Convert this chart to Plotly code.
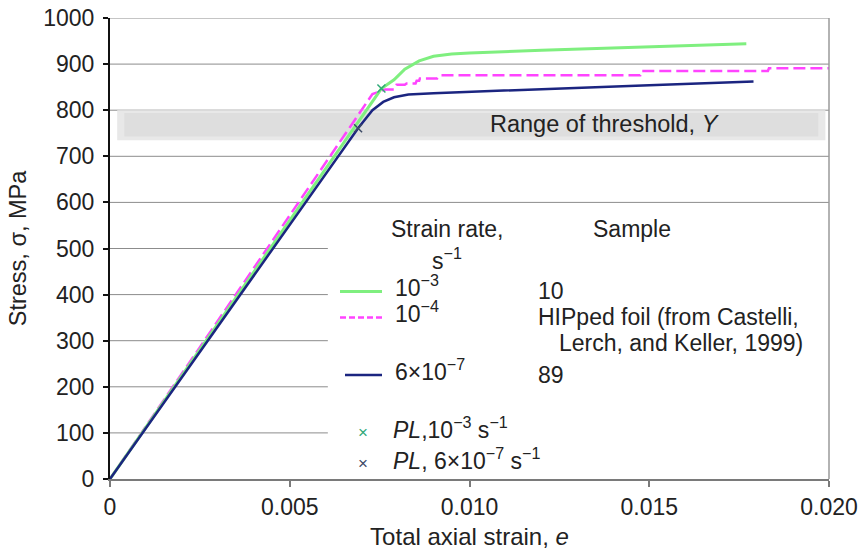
import plotly.graph_objects as go

# Stress-strain curves (strain, stress in MPa)
strain_1e3 = [0, 0.00755, 0.0079, 0.0082, 0.0086, 0.0090, 0.0095, 0.0100, 0.0120, 0.0150, 0.0177]
stress_1e3 = [0, 847, 866, 889, 907, 917, 922, 924, 930, 937, 944]

strain_1e4 = [0, 0.0073, 0.00765, 0.0079, 0.00797, 0.0082, 0.00825, 0.0085, 0.00853,
              0.0086, 0.00862, 0.0091, 0.00918, 0.01475, 0.01478, 0.0183, 0.01833, 0.0200]
stress_1e4 = [0, 835, 845, 845, 855, 855, 858, 858, 864,
              864, 869, 869, 876, 876, 885, 885, 891, 891]

strain_6e7 = [0, 0.0069, 0.0073, 0.0076, 0.0079, 0.0083, 0.0090, 0.0120, 0.0150, 0.0179]
stress_6e7 = [0, 761, 800, 818, 828, 834, 837, 846, 854, 862]

# Proportional limits
pl_1e3 = (0.00755, 847)
pl_6e7 = (0.0069, 761)

# Threshold range Y (MPa)
threshold_lo, threshold_hi = 735, 800

x_tickvals = [0, 0.005, 0.010, 0.015, 0.020]
x_ticktext = ["0", "0.005", "0.010", "0.015", "0.020"]
y_tickvals = list(range(0, 1001, 100))
full_grid = [600, 700, 800, 900, 1000]
short_grid = [100, 200, 300, 400, 500]

FONT = "Liberation Sans, Arial, sans-serif"
TXT = "#222222"
GREEN = "#7FEF7F"
MAGENTA = "#FF44FF"
NAVY = "#1B2580"
GRID = "#8c8c8c"
KEY_SIZE = 23

fig = go.Figure()

fig.add_trace(go.Scatter(x=strain_1e4, y=stress_1e4, mode="lines",
                         line=dict(color=MAGENTA, width=2.5, dash="12px,5px"), showlegend=False))
fig.add_trace(go.Scatter(x=strain_1e3, y=stress_1e3, mode="lines",
                         line=dict(color=GREEN, width=3), showlegend=False))
fig.add_trace(go.Scatter(x=strain_6e7, y=stress_6e7, mode="lines",
                         line=dict(color=NAVY, width=2.5), showlegend=False))
fig.add_trace(go.Scatter(x=[pl_1e3[0]], y=[pl_1e3[1]], mode="markers",
                         marker=dict(symbol="x-thin", size=8, line=dict(color="#2FA878", width=1.5)),
                         showlegend=False))
fig.add_trace(go.Scatter(x=[pl_6e7[0]], y=[pl_6e7[1]], mode="markers",
                         marker=dict(symbol="x-thin", size=8, line=dict(color="#3C4A66", width=1.5)),
                         showlegend=False))

shapes = []
# soft grey threshold band
shapes.append(dict(type="rect", xref="x", yref="y", x0=0.0002, x1=0.0199, y0=threshold_lo, y1=threshold_hi,
                   fillcolor="#e8e8e8", line=dict(width=0), layer="below"))
shapes.append(dict(type="rect", xref="x", yref="y", x0=0.0004, x1=0.0197, y0=threshold_lo + 8, y1=threshold_hi - 6,
                   fillcolor="#dedede", line=dict(width=0), layer="below"))

# gridlines: upper ones span the plot, lower ones stop at the key panel
for g in full_grid:
    shapes.append(dict(type="line", xref="paper", yref="y", x0=0, x1=1, y0=g, y1=g,
                       line=dict(color=GRID, width=1), layer="below"))
for g in short_grid:
    shapes.append(dict(type="line", xref="paper", yref="y", x0=0, x1=0.303, y0=g, y1=g,
                       line=dict(color=GRID, width=1), layer="below"))

# right border of the plot area
shapes.append(dict(type="line", xref="paper", yref="paper", x0=1, x1=1, y0=0, y1=1,
                   line=dict(color="#9a9a9a", width=1.5)))


def px_x(p):
    return (p - 110) / 719


def px_y(p):
    return (479 - p) / 461


# key line samples
for (x0, x1, y, col, dash, w) in [(340, 382, 291.5, GREEN, "solid", 3),
                                  (340, 382, 317.5, MAGENTA, "6px,3px", 2.5),
                                  (345, 382, 375, NAVY, "solid", 2.5)]:
    shapes.append(dict(type="line", xref="paper", yref="paper", x0=px_x(x0), x1=px_x(x1),
                       y0=px_y(y), y1=px_y(y), line=dict(color=col, width=w, dash=dash)))

annotations = []


def note(text, x, y, xanchor="left", size=KEY_SIZE, color=TXT):
    annotations.append(dict(text=text, xref="paper", yref="paper", x=px_x(x), y=px_y(y),
                            xanchor=xanchor, yanchor="middle", showarrow=False,
                            font=dict(family=FONT, size=size, color=color)))


note("Strain rate,", 447, 229, "center")
note("s<sup>−1</sup>", 447, 259, "center")
note("Sample", 632, 229, "center")
note("10<sup>−3</sup>", 393, 286)
note("10", 536, 291)
note("10<sup>−4</sup>", 393, 312)
note("HIPped foil (from Castelli,", 536, 317)
note("Lerch, and Keller, 1999)", 557, 343)
note("6×10<sup>−7</sup>", 393, 370)
note("89", 536, 375)
note("×", 363, 432, "center", 17, "#2FA878")
note("<i>PL</i>,10<sup>−3</sup> s<sup>−1</sup>", 391, 428)
note("×", 363, 463, "center", 17, "#3C4A66")
note("<i>PL</i>, 6×10<sup>−7</sup> s<sup>−1</sup>", 391, 459)

annotations.append(dict(text="Range of threshold, <i>Y</i>", xref="x", yref="y",
                        x=0.01377, y=(threshold_lo + threshold_hi) / 2 + 2, showarrow=False,
                        font=dict(family=FONT, size=23.5, color=TXT)))

fig.update_layout(
    width=864, height=550,
    margin=dict(l=110, r=35, t=18, b=71),
    paper_bgcolor="white", plot_bgcolor="white",
    font=dict(family=FONT, size=23, color=TXT),
    shapes=shapes, annotations=annotations,
    xaxis=dict(range=[0, 0.02], tickvals=x_tickvals, ticktext=x_ticktext, automargin=False,
               showgrid=False, zeroline=False, showline=True, linecolor="#7a7a7a", linewidth=2,
               ticks="outside", ticklen=6, tickcolor="#7a7a7a", tickwidth=1.5,
               tickfont=dict(size=23),
               title=dict(text="Total axial strain, <i>e</i>", font=dict(size=24), standoff=10)),
    yaxis=dict(range=[0, 1000], tickvals=y_tickvals, automargin=False,
               showgrid=False, zeroline=False,
               showline=True, linecolor="#111111", linewidth=2,
               ticks="outside", ticklen=5, tickcolor="#111111", tickwidth=1.5,
               tickfont=dict(size=23), ticklabelstandoff=4,
               title=dict(text="Stress, σ, MPa", font=dict(size=23.5), standoff=10)),
)

fig.write_html("out.html")
